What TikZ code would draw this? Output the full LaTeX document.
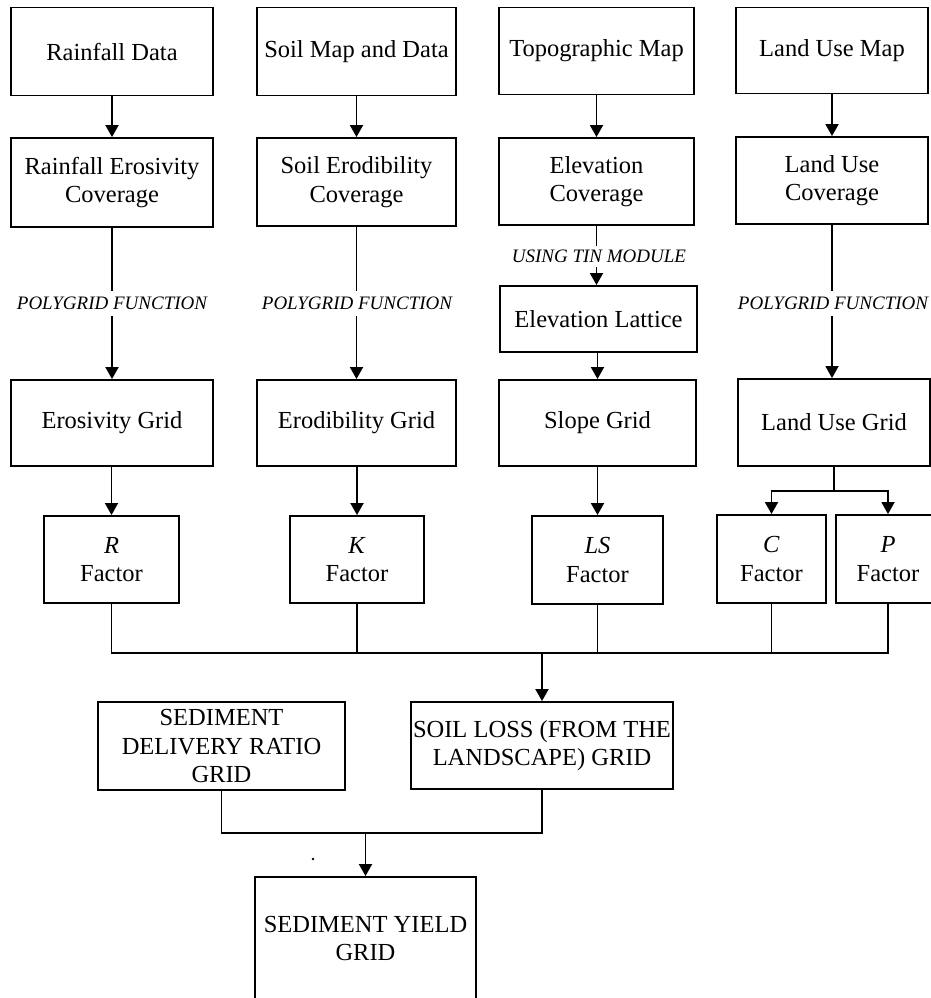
\documentclass[tikz,border=0pt]{standalone}
\usepackage{fontspec}
\setmainfont{Liberation Serif}
\usetikzlibrary{arrows.meta}

\begin{document}
\begin{tikzpicture}[x=1pt,y=-1pt,
  box/.style={draw, line width=1.9pt, align=center, inner sep=2pt,
              font=\fontsize{24.5}{28.5}\selectfont},
  link/.style={line width=1.9pt},
  arrow/.style={link, -{Triangle[width=13pt,length=12pt]}},
  oplabel/.style={fill=white, inner xsep=2pt, inner ysep=6pt,
                  font=\fontsize{19}{22}\selectfont\itshape}
]
\useasboundingbox (0,0) rectangle (931,998);
\clip (0,0) rectangle (931,998);

% --- rainfall column
\node[box, minimum width=202pt, minimum height=88pt] (rain)  at (112,51.5) {Rainfall Data};
\node[box, minimum width=202pt, minimum height=89pt] (rainc) at (112,182.5) {Rainfall Erosivity\\Coverage};
\node[box, minimum width=202pt, minimum height=86pt] (erog)  at (112,423) {Erosivity Grid};
\node[box, minimum width=135pt, minimum height=87pt] (R)     at (111.5,559.5) {\textit{R}\\Factor};

% --- soil column
\node[box, minimum width=199pt, minimum height=88pt] (soil)  at (356.5,51.5) {Soil Map and Data};
\node[box, minimum width=199pt, minimum height=88pt] (soilc) at (356.5,182) {Soil Erodibility\\Coverage};
\node[box, minimum width=199pt, minimum height=86pt] (erodg) at (356.5,423) {Erodibility Grid};
\node[box, minimum width=134pt, minimum height=87pt] (K)     at (357,559.5) {\textit{K}\\Factor};

% --- topography column
\node[box, minimum width=195pt, minimum height=87pt] (topo)  at (596.5,51) {Topographic Map};
\node[box, minimum width=195pt, minimum height=87pt] (elevc) at (596.5,181.5) {Elevation\\Coverage};
\node[box, minimum width=197pt, minimum height=66pt] (latt)  at (598.5,319) {Elevation Lattice};
\node[box, minimum width=197pt, minimum height=86pt] (slope) at (597.5,423) {Slope Grid};
\node[box, minimum width=131pt, minimum height=88pt] (LS)    at (597.5,560) {\textit{LS}\\Factor};

% --- land use column
\node[box, minimum width=192pt, minimum height=86pt] (landm) at (832,50.5) {Land Use Map};
\node[box, minimum width=192pt, minimum height=87pt] (landc) at (832,180.5) {Land Use\\Coverage};
\node[box, minimum width=192pt, minimum height=87pt] (landg) at (834,422.5) {Land Use Grid};
\node[box, minimum width=109pt, minimum height=88pt] (C)     at (771.5,559) {\textit{C}\\Factor};
\node[box, minimum width=104pt, minimum height=88pt] (P)     at (888,559) {\textit{P}\\Factor};

% --- combined grids
\node[box, minimum width=247pt, minimum height=88pt] (sdr)   at (221.5,746) {SEDIMENT\\DELIVERY RATIO\\GRID};
\node[box, minimum width=262pt, minimum height=87pt] (loss)  at (542,745.5) {SOIL LOSS (FROM THE\\LANDSCAPE) GRID};
\node[box, minimum width=221pt, minimum height=123pt] (yield) at (365.5,938.5) {SEDIMENT YIELD\\GRID};

% --- data to coverage
\draw[arrow] (rain)  -- (rainc);
\draw[arrow] (soil)  -- (soilc);
\draw[arrow] (topo)  -- (elevc);
\draw[arrow] (landm) -- (landc);

% --- coverage to grid
\draw[arrow] (rainc) -- (erog);
\draw[arrow] (soilc) -- (erodg);
\draw[arrow] (landc.south) -- (landc.south |- landg.north);
\draw[arrow] (elevc.south) -- (elevc.south |- latt.north);
\draw[arrow] (latt.south -| slope.north) -- (slope.north);
\node[oplabel] (pg1) at (112,303.5) {POLYGRID FUNCTION};
\node[oplabel] (pg2) at (357,303.5) {POLYGRID FUNCTION};
\node[oplabel] (pg4) at (833,303.5) {POLYGRID FUNCTION};
\node[oplabel, inner ysep=4pt] (tin) at (599,256.5) {USING TIN MODULE};

% --- grid to factor
\draw[arrow] (erog.south -| R.north) -- (R.north);
\draw[arrow] (erodg.south -| K.north) -- (K.north);
\draw[arrow] (slope.south -| LS.north) -- (LS.north);
\coordinate (split) at (834,491);
\draw[link] (landg.south) -- (split);
\draw[arrow] (split) -| (C.north);
\draw[arrow] (split) -| (P.north);

% --- factors combined into soil loss
\coordinate (busy) at (0,653);
\draw[link] (R.south) -- (R.south |- busy) -- (P.south |- busy) -- (P.south);
\draw[link] (K.south) -- (K.south |- busy);
\draw[link] (LS.south) -- (LS.south |- busy);
\draw[link] (C.south) -- (C.south |- busy);
\draw[arrow] (loss.north |- busy) -- (loss.north);

% --- sediment yield
\coordinate (joiny) at (0,833);
\draw[link] (sdr.south) -- (sdr.south |- joiny) -- (loss.south |- joiny) -- (loss.south);
\draw[arrow] (yield.north |- joiny) -- (yield.north);
\fill (313,859) circle (1.3pt);
\end{tikzpicture}
\end{document}
